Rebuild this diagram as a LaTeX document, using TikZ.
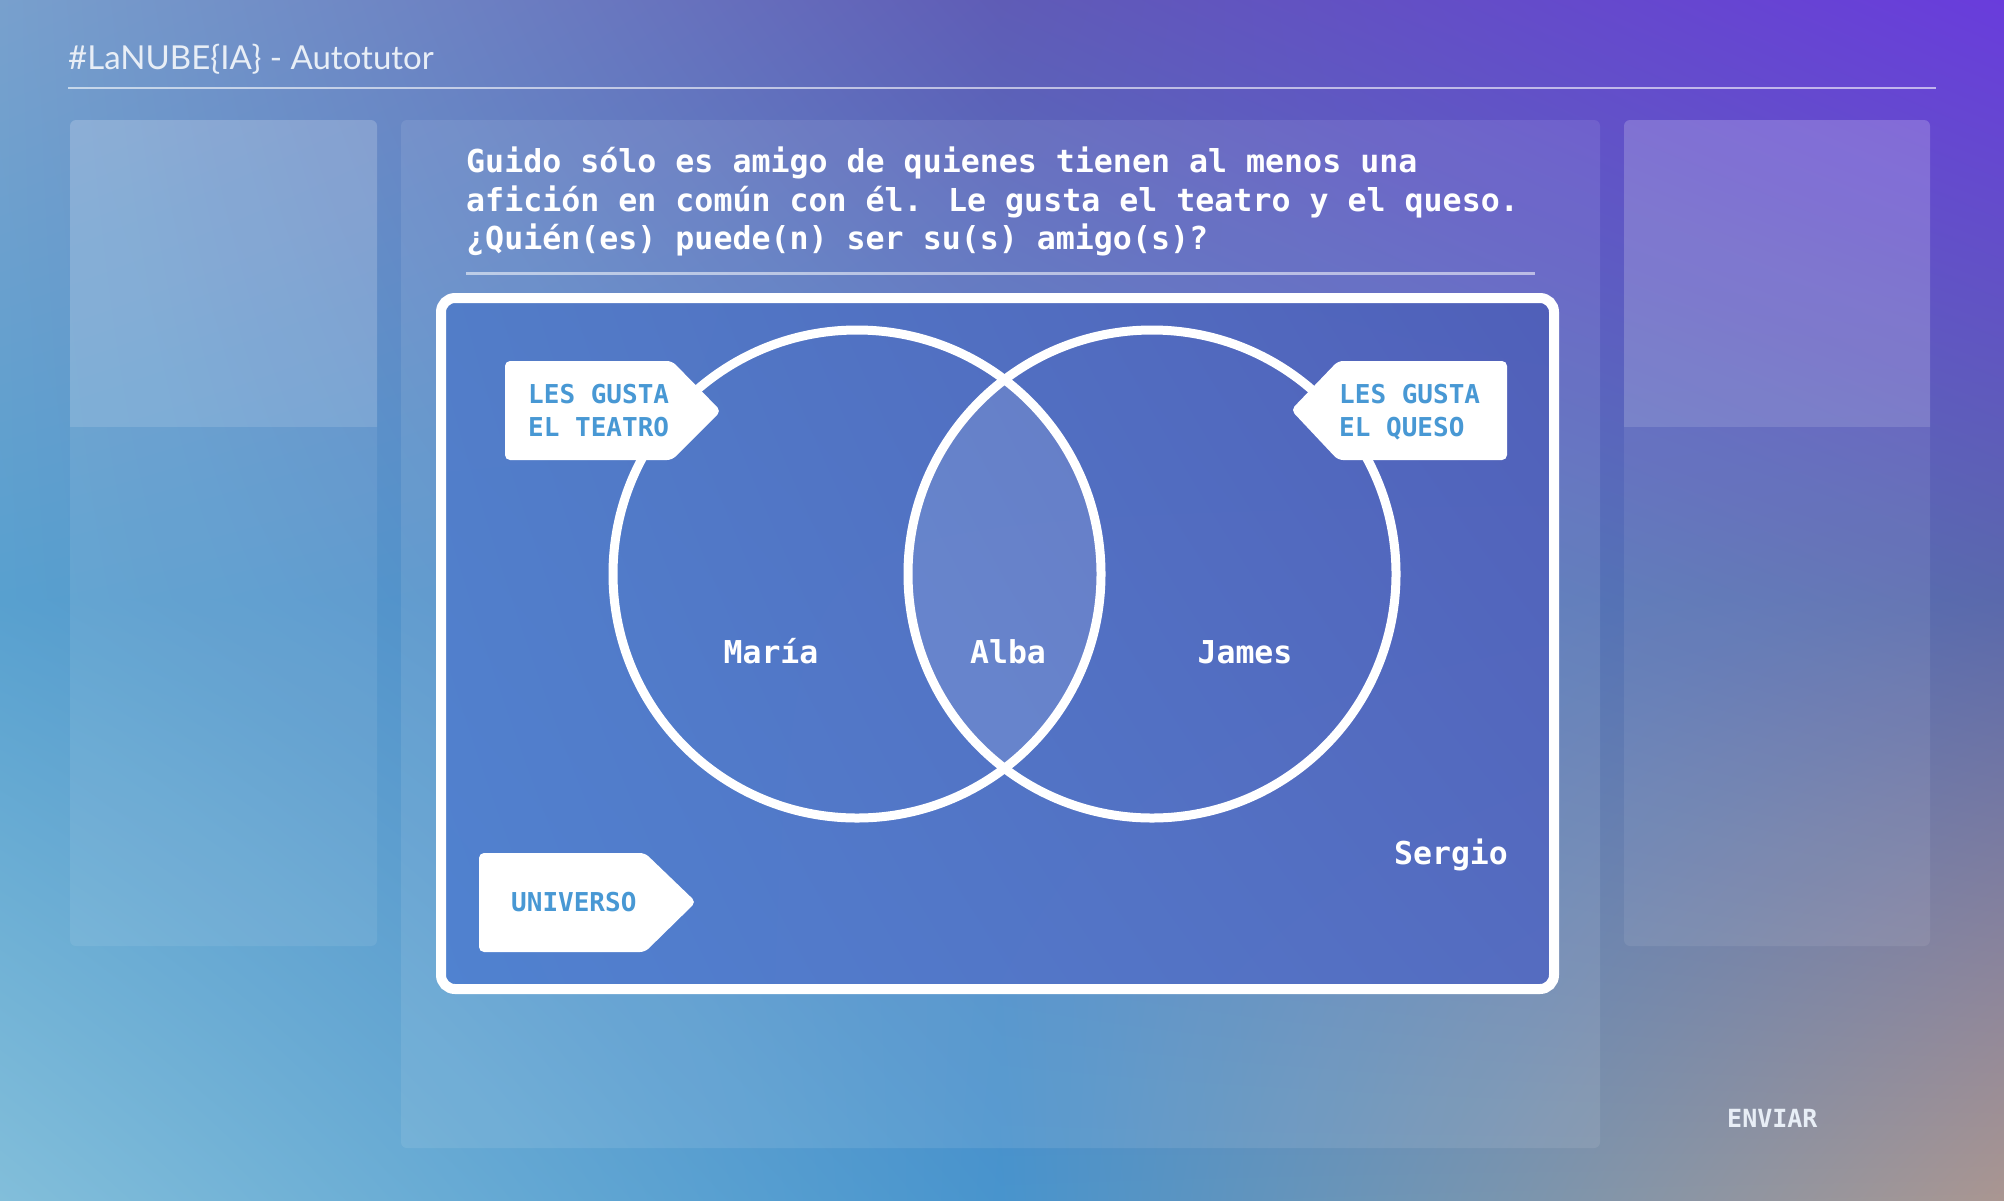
\documentclass[tikz,border=0pt]{standalone}
\usepackage{fontspec}
\usetikzlibrary{shadings}
\newfontfamily\hdrfont{Lato}
\newfontfamily\monofont{DejaVu Sans Mono}
\definecolor{bgA}{RGB}{120,160,205}
\definecolor{bgB}{RGB}{95,92,182}
\definecolor{bgC}{RGB}{105,60,220}
\definecolor{bgD}{RGB}{88,160,207}
\definecolor{bgE}{RGB}{76,128,196}
\definecolor{bgF}{RGB}{90,105,172}
\definecolor{bgG}{RGB}{130,190,218}
\definecolor{bgH}{RGB}{72,148,205}
\definecolor{bgI}{RGB}{170,150,145}
\definecolor{vUL}{RGB}{82,125,200}
\definecolor{vUR}{RGB}{80,95,185}
\definecolor{vLL}{RGB}{80,130,208}
\definecolor{vLR}{RGB}{85,108,192}
\definecolor{tagblue}{RGB}{72,152,212}
\definecolor{paletxt}{RGB}{232,238,246}
\tikzset{
  panel/.style={fill=white, rounded corners=6pt},
  tagshape/.style={fill=white, rounded corners=5pt},
  tagtext/.style={font=\monofont\bfseries\fontsize{26}{32}\selectfont, text=tagblue, inner sep=0pt, anchor=base west},
  qtext/.style={font=\monofont\bfseries\fontsize{31.6}{38}\selectfont, text=white, inner sep=0pt, anchor=base west},
  nametext/.style={font=\monofont\bfseries\fontsize{31.5}{36}\selectfont, text=white, inner sep=0pt, anchor=base},
  ring/.style={draw=white, line width=9pt}
}
\begin{document}
\begin{tikzpicture}[x=1pt,y=-1pt]
\useasboundingbox (0,0) rectangle (2004,1200);
% background (piecewise bilinear)
\shade[upper left=bgA, upper right=bgB, lower left=bgD, lower right=bgE] (0,0) rectangle (1001,600);
\shade[upper left=bgB, upper right=bgC, lower left=bgE, lower right=bgF] (1000,0) rectangle (2004,600);
\shade[upper left=bgD, upper right=bgE, lower left=bgG, lower right=bgH] (0,599) rectangle (1001,1200);
\shade[upper left=bgE, upper right=bgF, lower left=bgH, lower right=bgI] (1000,599) rectangle (2004,1200);
% header
\node[font=\hdrfont\fontsize{33}{38}\selectfont, text=paletxt, anchor=base west, inner sep=0pt] (title) at (68,69) {\#LaNUBE\{IA\} - Autotutor};
\coordinate (hlA) at (68,88);
\coordinate (hlB) at (1936,88);
\draw[white, opacity=0.6, line width=2pt] (hlA) -- (hlB);
% panels
\fill[panel, opacity=0.08] (70,120) rectangle (377,946);
\begin{scope}
  \clip (60,110) rectangle (390,426);
  \fill[panel, opacity=0.13] (70,120) rectangle (377,946);
\end{scope}
\fill[panel, opacity=0.09] (401,120) rectangle (1600,1148);
\fill[panel, opacity=0.08] (1624,120) rectangle (1930,946);
\begin{scope}
  \clip (1614,110) rectangle (1940,426);
  \fill[panel, opacity=0.13] (1624,120) rectangle (1930,946);
\end{scope}
% question
\node[qtext] (q1) at (466,172) {Guido sólo es amigo de quienes tienen al menos una};
\node[qtext] (q2) at (466,211) {afición en común con él. Le gusta el teatro y el queso.};
\node[qtext] (q3) at (466,249) {¿Quién(es) puede(n) ser su(s) amigo(s)?};
\coordinate (dlA) at (466,273);
\coordinate (dlB) at (1535,273);
\draw[white, opacity=0.55, line width=3pt] (dlA) -- (dlB);
% venn frame
\shade[upper left=vUL, upper right=vUR, lower left=vLL, lower right=vLR, rounded corners=14pt] (441,298) rectangle (1554,989);
\begin{scope}
  \clip (857,574) circle[radius=244pt];
  \fill[white, opacity=0.12] (1152,574) circle[radius=244pt];
\end{scope}
\draw[ring] (857,574) circle[radius=244pt];
\draw[ring] (1152,574) circle[radius=244pt];
\draw[white, line width=10pt, rounded corners=14pt] (441,298) rectangle (1554,989);
% tags
\fill[tagshape] (505,361) -- (672,361) -- (721,411) -- (672,460) -- (505,460) -- cycle;
\node[tagtext] (t1) at (528,403) {LES GUSTA};
\node[tagtext] (t2) at (528,436) {EL TEATRO};
\fill[tagshape] (1507,361) -- (1338,361) -- (1291,410) -- (1338,460) -- (1507,460) -- cycle;
\node[tagtext] (t3) at (1339,403) {LES GUSTA};
\node[tagtext] (t4) at (1339,436) {EL QUESO};
\fill[tagshape] (479,853) -- (645,853) -- (696,902) -- (645,952) -- (479,952) -- cycle;
\node[tagtext] (t5) at (511,911) {UNIVERSO};
% names
\node[nametext] (maria) at (771,663) {María};
\node[nametext] (alba) at (1008,663) {Alba};
\node[nametext] (james) at (1245,663) {James};
\node[nametext] (sergio) at (1451,864) {Sergio};
% button
\node[font=\monofont\bfseries\fontsize{25}{30}\selectfont, text=paletxt, anchor=base west, inner sep=0pt] (enviar) at (1727,1127) {ENVIAR};
\end{tikzpicture}
\end{document}
